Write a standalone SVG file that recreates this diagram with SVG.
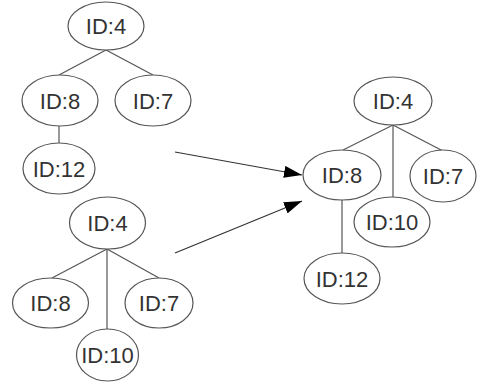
<svg xmlns="http://www.w3.org/2000/svg" width="477" height="385" viewBox="0 0 477 385">
<defs>
<style>
.n ellipse{fill:#fff;stroke:#555;stroke-width:1.2}
.n text{font-family:"Liberation Sans",Arial,sans-serif;font-size:22px;fill:#333;text-anchor:middle}
.e line{stroke:#555;stroke-width:1.2}
.a line{stroke:#333;stroke-width:1.2}
</style>
<marker id="ah" viewBox="0 0 18 12" refX="18" refY="6" markerWidth="18" markerHeight="12" markerUnits="userSpaceOnUse" orient="auto">
<path d="M0,0 L18,6 L0,12 Z" fill="#000"/>
</marker>
</defs>
<rect width="477" height="385" fill="#fff"/>
<g id="connectors">
<g class="e">
<line x1="106" y1="50" x2="59" y2="75"/>
<line x1="106" y1="50" x2="153" y2="75"/>
<line x1="59" y1="126" x2="59" y2="143"/>
<line x1="107" y1="249" x2="52" y2="278"/>
<line x1="107" y1="249" x2="159" y2="278"/>
<line x1="107" y1="249" x2="107" y2="329"/>
<line x1="393" y1="125" x2="343" y2="150"/>
<line x1="393" y1="125" x2="443" y2="151"/>
<line x1="393" y1="125" x2="393" y2="197"/>
<line x1="342" y1="200" x2="342" y2="253"/>
</g>
<g class="a">
<line x1="175" y1="152" x2="302" y2="175" marker-end="url(#ah)"/>
<line x1="175" y1="253" x2="302" y2="201" marker-end="url(#ah)"/>
</g>
</g>
<g id="a4" class="n"><ellipse cx="106" cy="26" rx="38" ry="24"/><text x="106" y="34">ID:4</text></g>
<g id="a8" class="n"><ellipse cx="60" cy="100.5" rx="38" ry="25.5"/><text x="60" y="108.5">ID:8</text></g>
<g id="a7" class="n"><ellipse cx="153" cy="100.5" rx="38" ry="25.5"/><text x="153" y="108.5">ID:7</text></g>
<g id="a12" class="n"><ellipse cx="59" cy="168.5" rx="36" ry="25.5"/><text x="59" y="177">ID:12</text></g>
<g id="b4" class="n"><ellipse cx="107.5" cy="223" rx="38" ry="26"/><text x="107.5" y="231">ID:4</text></g>
<g id="b8" class="n"><ellipse cx="50.5" cy="303" rx="38" ry="25"/><text x="50.5" y="311">ID:8</text></g>
<g id="b7" class="n"><ellipse cx="159" cy="303" rx="34" ry="25"/><text x="159" y="311">ID:7</text></g>
<g id="b10" class="n"><ellipse cx="107.5" cy="355" rx="31" ry="26"/><text x="107.5" y="362.5">ID:10</text></g>
<g id="c4" class="n"><ellipse cx="393" cy="101" rx="39" ry="24"/><text x="393" y="109">ID:4</text></g>
<g id="c8" class="n"><ellipse cx="342" cy="175" rx="39" ry="25"/><text x="342" y="183">ID:8</text></g>
<g id="c7" class="n"><ellipse cx="443" cy="176" rx="33" ry="26"/><text x="443" y="184">ID:7</text></g>
<g id="c10" class="n"><ellipse cx="392" cy="222" rx="38" ry="25"/><text x="392" y="230">ID:10</text></g>
<g id="c12" class="n"><ellipse cx="342" cy="278.5" rx="38" ry="25.5"/><text x="342" y="286.5">ID:12</text></g>
</svg>
